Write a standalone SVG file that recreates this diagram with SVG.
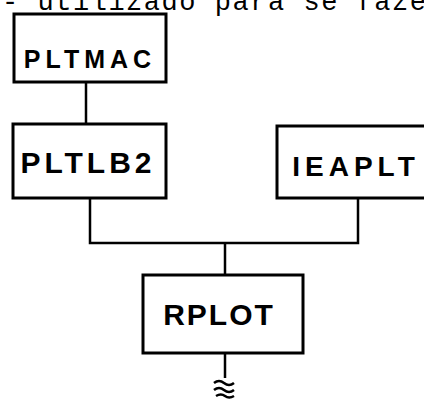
<svg xmlns="http://www.w3.org/2000/svg" width="424" height="403" viewBox="0 0 424 403">
<style>
.box{fill:#fff;stroke:#000;stroke-width:3}
.lbl{font-family:"Liberation Sans",Arial,sans-serif;font-weight:bold;fill:#000;text-anchor:middle}
.ln{fill:none;stroke:#000;stroke-width:2.5}
.top{font-family:"Liberation Mono","Courier New",monospace;font-size:27px;fill:#000}
</style>
<rect width="424" height="403" fill="#fff"/>
<text class="top" x="2" y="10" textLength="424" lengthAdjust="spacing">- utilizado para se faze</text>
<g id="connectors">
<path class="ln" d="M86 82 V124"/>
<path class="ln" d="M90 198 V243 H358 V198"/>
<path class="ln" d="M225 243 V275"/>
<path class="ln" d="M225 353 V378"/>
<path class="ln" d="M214 383 q5 -4 10 0 t10 0"/>
<path class="ln" d="M214 390 q5 -4 10 0 t10 0"/>
<path class="ln" d="M216 396 q5 -3 9 0 t9 0"/>
</g>
<g id="PLTMAC">
<rect class="box" x="14" y="14" width="152" height="68"/>
<text class="lbl" x="90" y="68" font-size="25" letter-spacing="5">PLTMAC</text>
</g>
<g id="PLTLB2">
<rect class="box" x="13" y="124" width="153" height="74"/>
<text class="lbl" x="88" y="173" font-size="30" letter-spacing="4">PLTLB2</text>
</g>
<g id="IEAPLT">
<rect class="box" x="277" y="126" width="160" height="72"/>
<text class="lbl" x="356" y="176" font-size="28" letter-spacing="5">IEAPLT</text>
</g>
<g id="RPLOT">
<rect class="box" x="143" y="275" width="160" height="78"/>
<text class="lbl" x="219" y="325" font-size="30" letter-spacing="2">RPLOT</text>
</g>
</svg>
